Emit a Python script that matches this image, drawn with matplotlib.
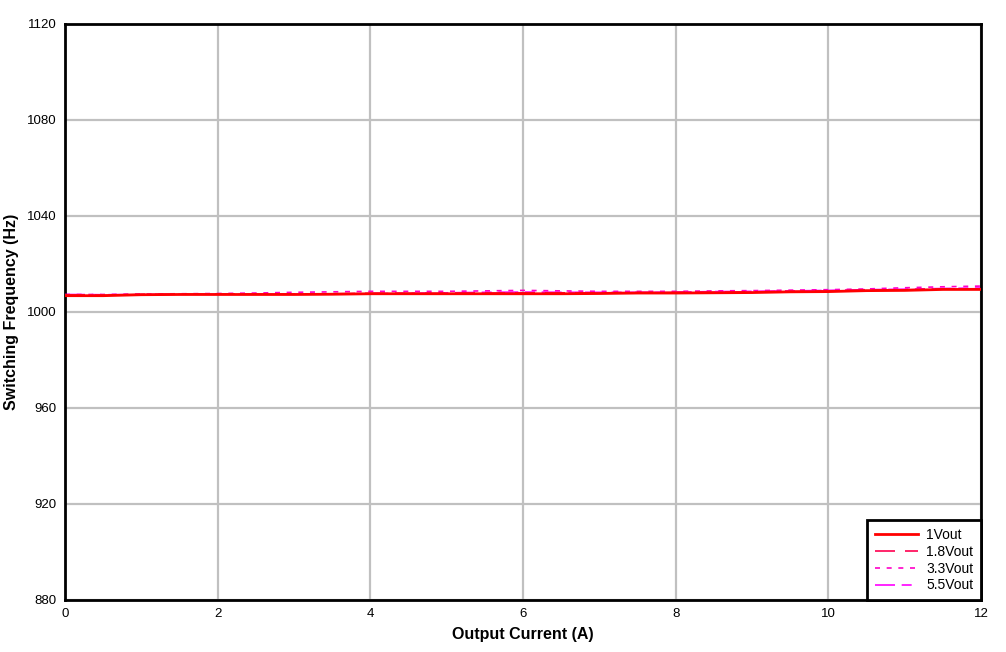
import matplotlib
matplotlib.use("Agg")
import matplotlib.pyplot as plt

plt.rcParams['font.family'] = ['Liberation Sans', 'DejaVu Sans']

current = [0, 0.5, 1, 1.5, 2, 2.5, 3, 3.5, 4, 4.5, 5, 5.5, 6, 6.5, 7, 7.5, 8, 8.5, 9, 9.5, 10, 10.5, 11, 11.5, 12]
f_1v0 = [1006.8, 1006.8, 1007.2, 1007.3, 1007.3, 1007.3, 1007.3, 1007.4, 1007.6, 1007.6, 1007.6, 1007.6, 1007.6,
         1007.6, 1007.7, 1007.9, 1007.9, 1008.0, 1008.1, 1008.4, 1008.5, 1008.9, 1009.0, 1009.4, 1009.4]
f_1v8 = [1007.1, 1007.0, 1007.3, 1007.4, 1007.5, 1007.5, 1007.5, 1007.6, 1007.8, 1007.8, 1007.8, 1007.9, 1008.0,
         1008.0, 1008.0, 1008.1, 1008.2, 1008.3, 1008.4, 1008.6, 1008.8, 1009.1, 1009.3, 1009.6, 1009.7]
f_3v3 = [1007.3, 1007.3, 1007.5, 1007.6, 1007.7, 1007.9, 1008.2, 1008.4, 1008.6, 1008.6, 1008.6, 1008.8, 1009.0,
         1008.8, 1008.6, 1008.6, 1008.6, 1008.8, 1008.9, 1009.1, 1009.3, 1009.6, 1010.1, 1010.5, 1010.8]
f_5v5 = [1007.3, 1007.2, 1007.3, 1007.4, 1007.4, 1007.4, 1007.4, 1007.5, 1007.7, 1007.8, 1008.0, 1008.2, 1008.3,
         1008.2, 1008.2, 1008.2, 1008.3, 1008.5, 1008.6, 1008.8, 1009.0, 1009.3, 1009.5, 1009.8, 1010.0]
labels = ['1Vout', '1.8Vout', '3.3Vout', '5.5Vout']
xticks = [0, 2, 4, 6, 8, 10, 12]
yticks = [880, 920, 960, 1000, 1040, 1080, 1120]

fig = plt.figure(figsize=(10.06, 6.52), dpi=100)
ax = fig.add_axes([65/1006, 1-600/652, 916/1006, 576/652])

l1, = ax.plot(current, f_1v0, color='#FF0000', lw=2.0, zorder=5, label=labels[0])
l2, = ax.plot(current, f_1v8, color='#FF0050', lw=1.2, dashes=(12, 6), zorder=4, label=labels[1])
l3, = ax.plot(current, f_3v3, color='#FF00C8', lw=1.2, dashes=(3, 4), zorder=3, label=labels[2])
l4, = ax.plot(current, f_5v5, color='#FF00FF', lw=1.2, dashes=(12, 4, 6, 4), zorder=2, label=labels[3])

ax.set_xlim(0, 12)
ax.set_ylim(880, 1120)
ax.set_xticks(xticks)
ax.set_yticks(yticks)
ax.tick_params(length=0, labelsize=9.5, pad=6)
ax.grid(True, color='#C0C0C0', lw=1.6)
ax.set_axisbelow(True)
for s in ax.spines.values():
    s.set_linewidth(2)
    s.set_color('black')
ax.set_xlabel('Output Current (A)', fontsize=11.5, fontweight='bold', va='center')
ax.set_ylabel('Switching Frequency (Hz)', fontsize=11.5, fontweight='bold', va='center')
ax.xaxis.set_label_coords(0.5, -34 / 576)
ax.yaxis.set_label_coords(-53 / 916, 0.5)

leg = ax.legend(handles=[l1, l2, l3, l4], loc='lower right', fontsize=10, frameon=True, fancybox=False,
                edgecolor='black', framealpha=1, borderaxespad=0, handlelength=3.1, labelspacing=0.2,
                borderpad=0.55, handletextpad=0.6)
leg.get_frame().set_linewidth(2)

fig.savefig('out.png', dpi=100)
